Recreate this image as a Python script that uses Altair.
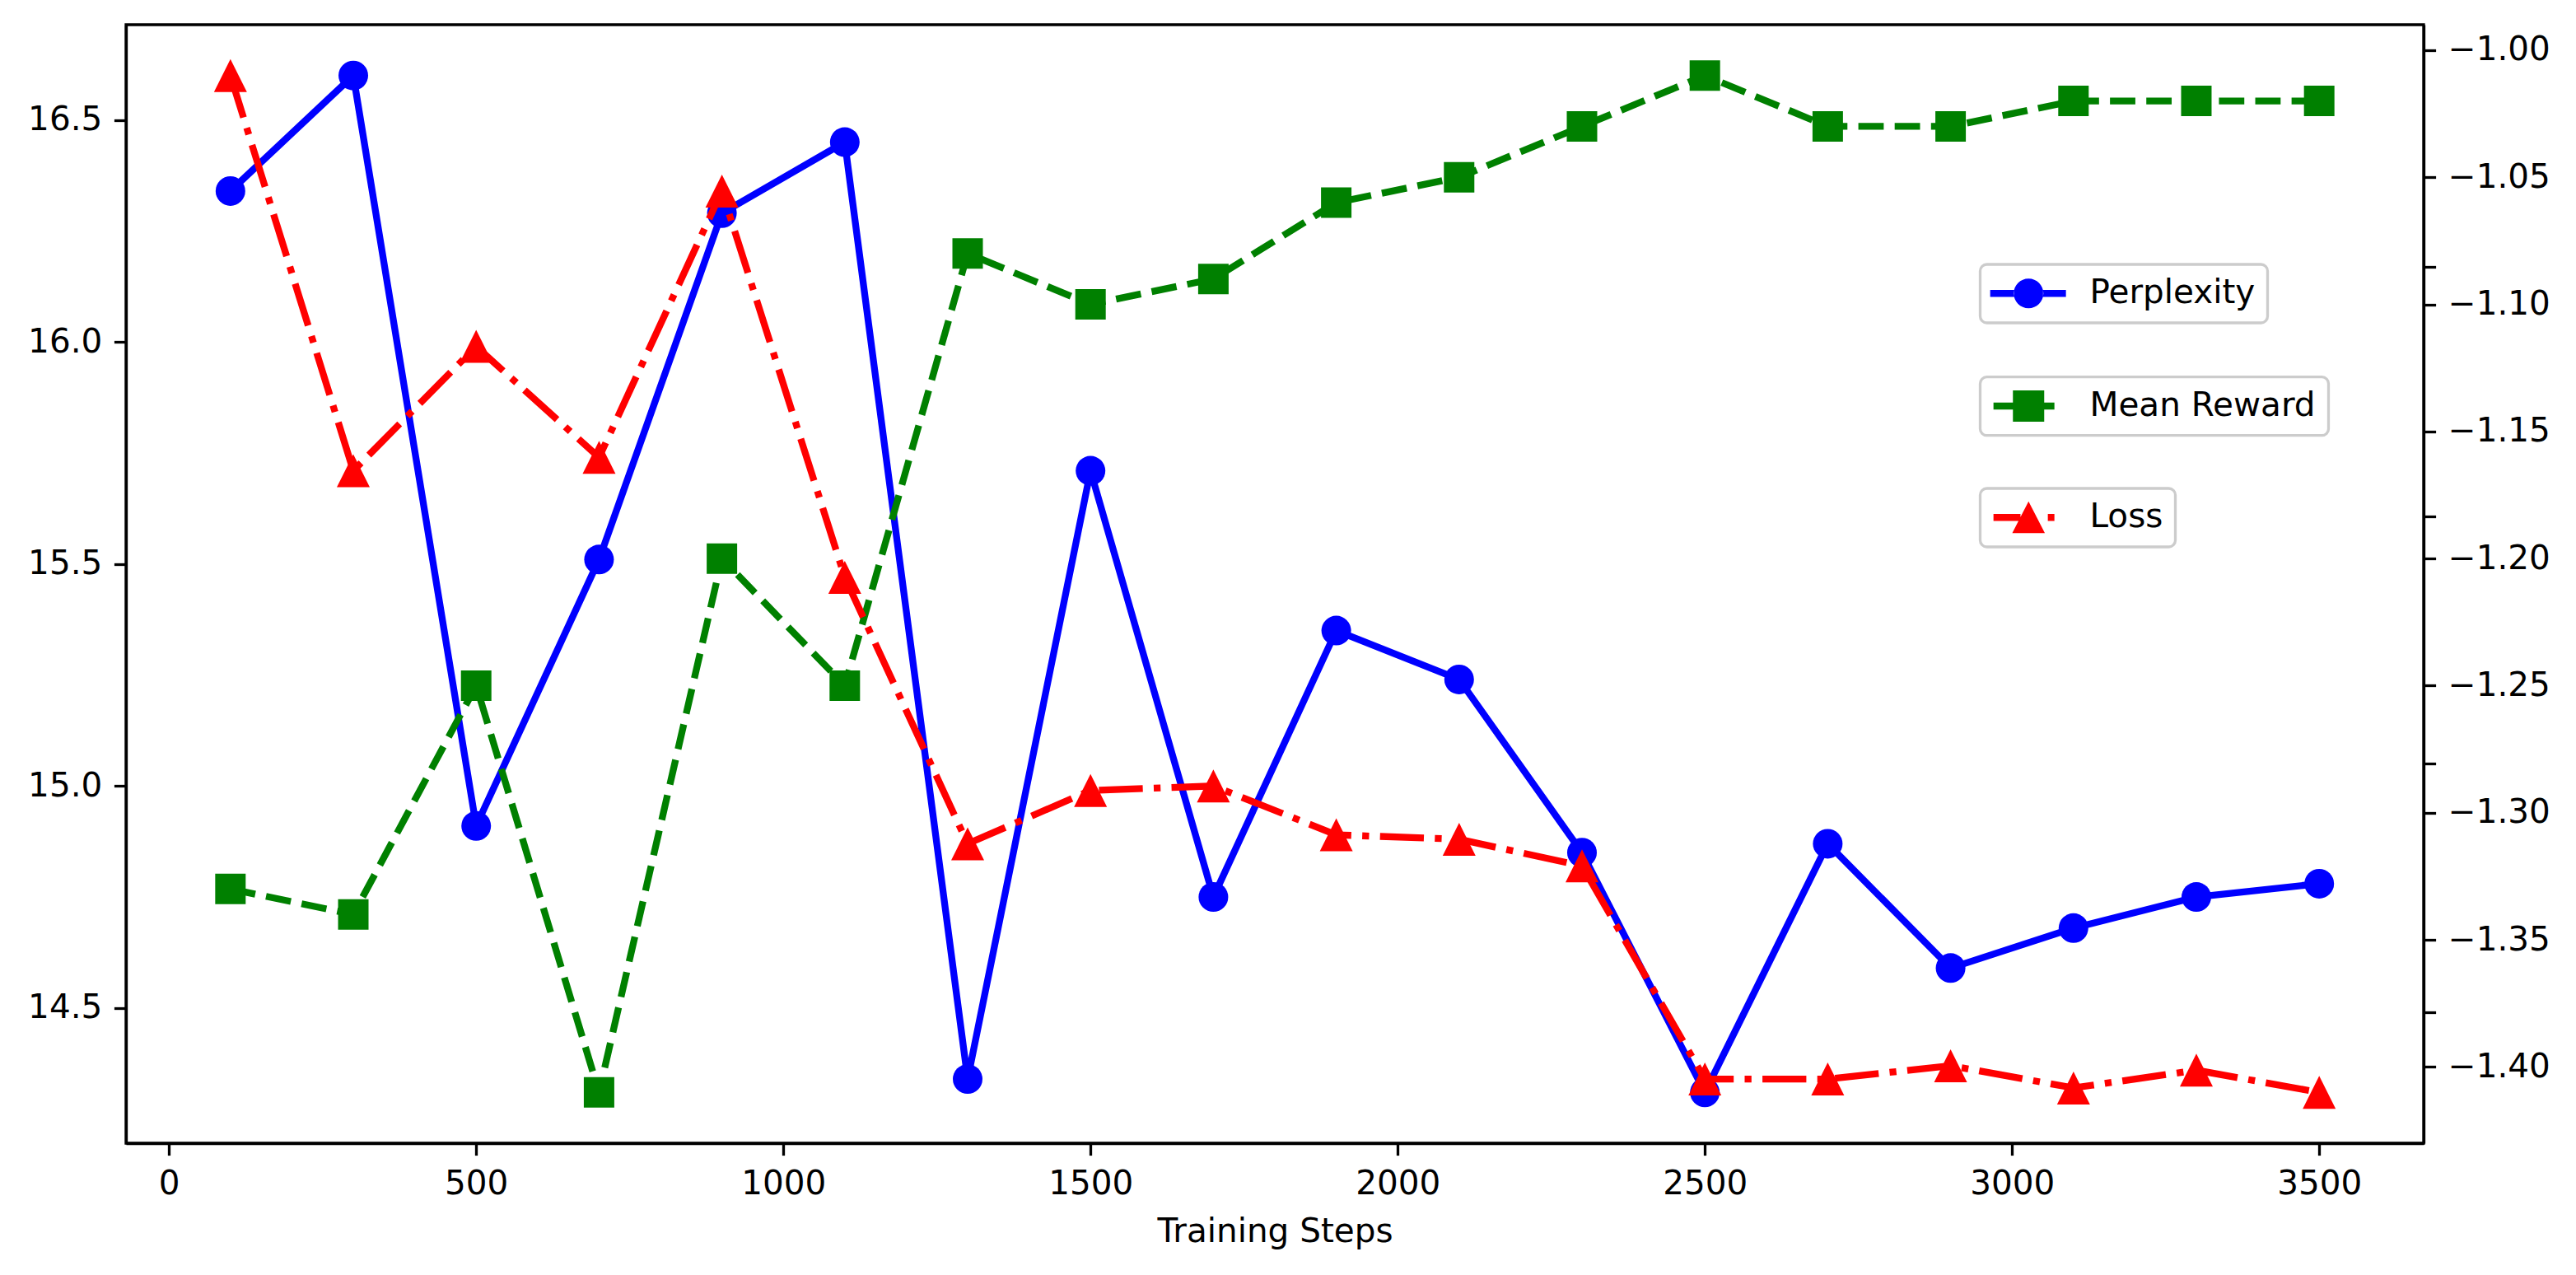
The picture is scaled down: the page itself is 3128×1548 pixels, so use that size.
import altair as alt
import pandas as pd

# ---------------- data ----------------
STEPS = [100, 300, 500, 700, 900, 1100, 1300, 1500, 1700, 1900, 2100, 2300,
         2500, 2700, 2900, 3100, 3300, 3500]
PERPLEXITY = [16.34, 16.60, 14.91, 15.51, 16.29, 16.45, 14.34, 15.71, 14.75,
              15.35, 15.24, 14.85, 14.31, 14.87, 14.59, 14.68, 14.75, 14.78]
MEAN_REWARD = [-1.33, -1.34, -1.25, -1.41, -1.20, -1.25, -1.08, -1.10, -1.09,
               -1.06, -1.05, -1.03, -1.01, -1.03, -1.03, -1.02, -1.02, -1.02]
LOSS = [16.60, 15.71, 15.99, 15.74, 16.34, 15.47, 14.87, 14.99, 15.00,
        14.89, 14.88, 14.82, 14.34, 14.34, 14.37, 14.32, 14.36, 14.31]

X_TICKS = [0, 500, 1000, 1500, 2000, 2500, 3000, 3500]
LEFT_TICKS = [14.5, 15.0, 15.5, 16.0, 16.5]
RIGHT_TICKS = [-1.00, -1.05, -1.10, -1.15, -1.20, -1.25, -1.30, -1.35, -1.40]
RIGHT_MINOR = [-1.0853, -1.1833, -1.2806, -1.3785]

X_DOMAIN = [-70, 3670]
LEFT_DOMAIN = [14.1955, 16.7145]
RIGHT_DOMAIN = [-1.43, -0.99]

FONT = "DejaVu Sans"
FS = 40.5
LW = 8.3
W, H = 2790, 1358

df_p = pd.DataFrame({"step": STEPS, "value": PERPLEXITY, "series": "Perplexity"})
df_r = pd.DataFrame({"step": STEPS, "value": MEAN_REWARD, "series": "Mean Reward"})
df_l = pd.DataFrame({"step": STEPS, "value": LOSS, "series": "Loss"})

# legend glyphs: line + marker (unit = sqrt(size)/2 = 20px)
def rect(x0, x1, h=0.21):
    return f"M{x0},{-h}H{x1}V{h}H{x0}Z"

SYM_P = rect(-2.33, -0.88) + rect(0.88, 2.27) + \
    "M-0.9,0A0.9,0.9 0 1,0 0.9,0A0.9,0.9 0 1,0 -0.9,0Z"
SYM_R = rect(-2.13, -0.95) + rect(0.95, 1.57) + "M-0.95,-0.95H0.95V0.95H-0.95Z"
SYM_L = rect(-2.13, -0.49) + rect(1.17, 1.57) + "M0,-0.97L0.99,0.95L-0.99,0.95Z"
TRI = "M0,-1L1,1L-1,1Z"

x_enc = alt.X("step:Q", title="Training Steps",
              scale=alt.Scale(domain=X_DOMAIN, nice=False, zero=False),
              axis=alt.Axis(values=X_TICKS, format="d", grid=False))


def legend(x, y, sym):
    return alt.Legend(title=None, orient="none", legendX=x, legendY=y,
                      symbolType=sym, symbolSize=1600, symbolOffset=23.5,
                      symbolStrokeWidth=0, symbolOpacity=1, labelOffset=54,
                      padding=15, strokeColor="#cccccc", fillColor="white",
                      cornerRadius=8, labelFont=FONT, labelFontSize=FS,
                      labelColor="black", labelLimit=1000)


def series(df, name, color, yscale, yaxis, dash, shape, size, leg):
    base = alt.Chart(df).encode(
        x=x_enc,
        y=alt.Y("value:Q", scale=yscale, axis=yaxis, title=None),
    )
    lkw = dict(color=color, strokeWidth=LW)
    if dash:
        lkw["strokeDash"] = dash
    line = base.mark_line(**lkw)
    pts = base.mark_point(filled=True, opacity=1, shape=shape, size=size,
                          strokeWidth=0).encode(
        color=alt.Color("series:N",
                        scale=alt.Scale(domain=[name], range=[color]),
                        legend=leg)
    )
    return alt.layer(line, pts)


left_axis = alt.Axis(values=LEFT_TICKS, format=".1f", grid=False, orient="left")
right_axis = alt.Axis(
    values=RIGHT_TICKS + RIGHT_MINOR, grid=False, orient="right",
    labelExpr="abs(datum.value*20 - round(datum.value*20)) < 0.001 ? "
              "replace(format(datum.value, '.2f'), '-', '\u2212') : ''")

perp = series(df_p, "Perplexity", "#0000ff",
              alt.Scale(domain=LEFT_DOMAIN, nice=False, zero=False), left_axis,
              None, "circle", 1296, legend(2251.5, 291, SYM_P))
rew = series(df_r, "Mean Reward", "#008000",
             alt.Scale(domain=RIGHT_DOMAIN, nice=False, zero=False), right_axis,
             [30.8, 13.3], "square", 1369, legend(2251.5, 427.7, SYM_R))
loss = series(df_l, "Loss", "#ff0000",
              alt.Scale(domain=LEFT_DOMAIN, nice=False, zero=False), None,
              [53.3, 13.3, 8.3, 13.3], TRI, 1600, legend(2251.5, 563, SYM_L))

chart = alt.layer(perp, rew, loss).resolve_scale(
    y="independent", color="independent"
).resolve_legend(color="independent").properties(
    width=W, height=H,
    autosize=alt.AutoSizeParams(type="none"),
    padding={"left": 145, "top": 22, "right": 170, "bottom": 150},
).configure_view(
    stroke="black", strokeWidth=3.3
).configure_axis(
    labelFont=FONT, labelFontSize=FS, labelColor="black",
    titleFont=FONT, titleFontSize=FS, titleColor="black", titleFontWeight="normal",
    domainColor="black", domainWidth=3.3, tickColor="black", tickWidth=3.3,
    tickSize=14.6, labelPadding=14.6, titlePadding=18
).configure_legend(
    strokeWidth=3.3
)

chart.save("out.html", embed_options={"renderer": "svg", "actions": False})
